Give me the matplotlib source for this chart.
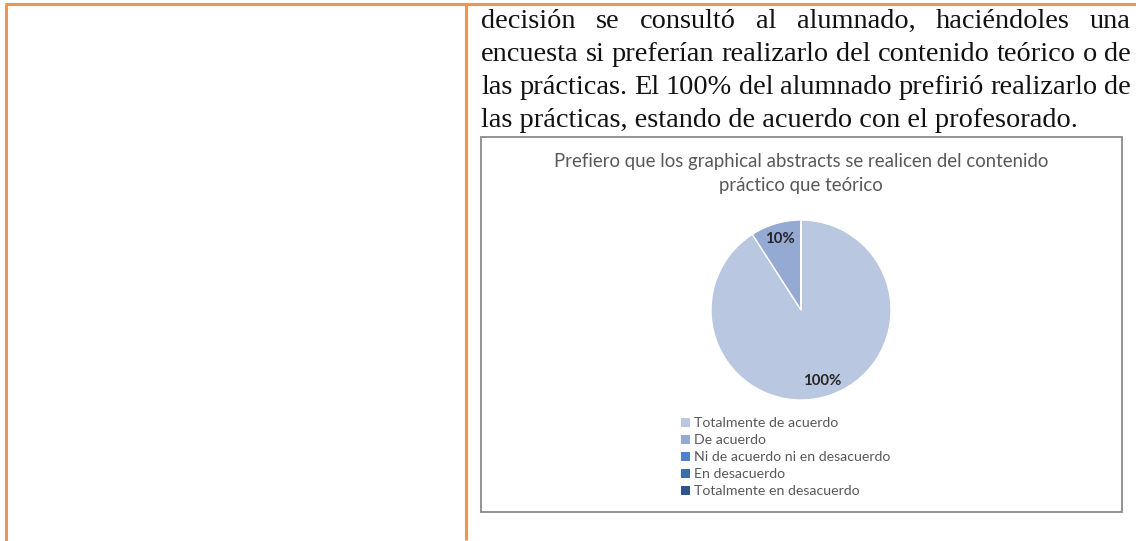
import matplotlib
matplotlib.use("Agg")
import matplotlib.pyplot as plt
from matplotlib.patches import Patch, Rectangle

# ------------------------------
# DATA
# ------------------------------
body_lines = [
    "decisión se consultó al alumnado, haciéndoles una",
    "encuesta si preferían realizarlo del contenido teórico o de",
    "las prácticas. El 100% del alumnado prefirió realizarlo de",
    "las prácticas, estando de acuerdo con el profesorado.",
]
chart_title = ["Prefiero que los graphical abstracts se realicen del contenido",
               "práctico que teórico"]
categories = ["Totalmente de acuerdo", "De acuerdo",
              "Ni de acuerdo ni en desacuerdo", "En desacuerdo",
              "Totalmente en desacuerdo"]
values = [1.0, 0.1, 0.0, 0.0, 0.0]
colors = ["#B9C7E1", "#94AAD3", "#4F81C4", "#3E6CAB", "#2E538E"]

# ------------------------------
# PAGE (pixel coords)
# ------------------------------
W, H = 1136, 541
fig = plt.figure(figsize=(W / 100, H / 100), dpi=100)
page = fig.add_axes([0, 0, 1, 1])
page.set_xlim(0, W)
page.set_ylim(H, 0)
page.axis("off")
renderer = fig.canvas.get_renderer()

orange = "#F4934A"
page.plot([5, W], [4, 4], color=orange, lw=2.2, solid_capstyle="butt")
page.plot([6, 6], [4, H], color=orange, lw=2.2, solid_capstyle="butt")
page.plot([466, 466], [4, 540], color=orange, lw=2.2, solid_capstyle="butt")

page.add_patch(Rectangle((481, 137), 1122 - 481, 512 - 137, fill=False,
                         edgecolor="#8A8A8A", lw=1.3))

serif = "Liberation Serif"


def text_width(s, fs, family):
    t = page.text(0, 0, s, fontsize=fs, family=family)
    w = t.get_window_extent(renderer).width
    t.remove()
    return w


# fit body font so the last line is as wide as in the page
fs_body = 20 * 595 / text_width(body_lines[3], 20, serif)
left, right = 481, 1131
baselines = [28, 61, 94, 127]

for i, line in enumerate(body_lines):
    y = baselines[i]
    if i == len(body_lines) - 1:
        page.text(left, y, line, fontsize=fs_body, family=serif,
                  va="baseline", color="#111111")
        continue
    words = line.split(" ")
    widths = [text_width(w, fs_body, serif) for w in words]
    gap = (right - left - sum(widths)) / (len(words) - 1)
    x = left
    for w, wd in zip(words, widths):
        page.text(x, y, w, fontsize=fs_body, family=serif,
                  va="baseline", color="#111111")
        x += wd + gap

# ------------------------------
# CHART
# ------------------------------
sans = "Lato"
fs_title = 12 * 493 / text_width(chart_title[0], 12, sans)
page.text(801, 161, chart_title[0], fontsize=fs_title, family=sans,
          ha="center", va="center", color="#595959")
page.text(801, 186, chart_title[1], fontsize=fs_title, family=sans,
          ha="center", va="center", color="#595959")

cx, cy, r = 801, 310, 90
pax = fig.add_axes([(cx - r) / W, 1 - (cy + r) / H, 2 * r / W, 2 * r / H])
total = sum(values)


def fmt(p):
    v = p * total / 100
    return f"{v:.0%}" if v > 0 else ""


pax.pie(values, colors=colors, startangle=90, counterclock=False,
        autopct=fmt, pctdistance=0.82,
        wedgeprops=dict(edgecolor="white", linewidth=1),
        textprops=dict(fontsize=10.8, fontweight="bold", family=sans,
                       color="#262626"))
pax.set_xlim(-1, 1)
pax.set_ylim(-1, 1)

handles = [Patch(facecolor=c, edgecolor="none") for c in colors]
leg = fig.legend(handles, categories, loc="upper left",
                 bbox_to_anchor=(681 / W, 1 - 417 / H), frameon=False,
                 prop=dict(family=sans, size=10.2), labelcolor="#595959",
                 handlelength=0.6, handleheight=0.6, handletextpad=0.3,
                 labelspacing=0.36, borderpad=0, borderaxespad=0)

fig.savefig("out.png", dpi=100)
